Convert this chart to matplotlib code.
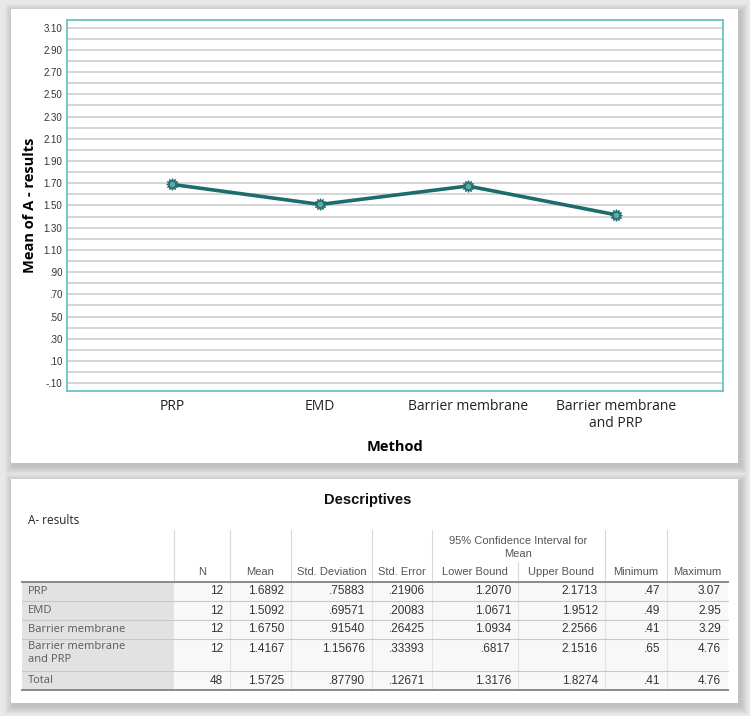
import numpy as np
from matplotlib import pyplot as plt
from matplotlib.patches import Rectangle

# data
methods = ["PRP", "EMD", "Barrier membrane", "Barrier membrane\nand PRP"]
means = [1.6892, 1.5092, 1.6750, 1.4167]

row_names = ["PRP", "EMD", "Barrier membrane", "Barrier membrane\nand PRP", "Total"]
n_vals = [12, 12, 12, 12, 48]
mean_vals = [1.6892, 1.5092, 1.6750, 1.4167, 1.5725]
sd_vals = [.75883, .69571, .91540, 1.15676, .87790]
se_vals = [.21906, .20083, .26425, .33393, .12671]
lower_vals = [1.2070, 1.0671, 1.0934, .6817, 1.3176]
upper_vals = [2.1713, 1.9512, 2.2566, 2.1516, 1.8274]
min_vals = [.47, .49, .41, .65, .41]
max_vals = [3.07, 2.95, 3.29, 4.76, 4.76]

ytick_vals = np.round(np.arange(-0.1, 3.11, 0.2), 2)
grid_vals = np.round(np.arange(-0.1, 3.11, 0.1), 2)


def spss(v, d):
    s = f"{v:.{d}f}"
    if s.startswith("0."):
        s = s[1:]
    elif s.startswith("-0."):
        s = "-" + s[2:]
    return s


W, H = 750, 716
fig = plt.figure(figsize=(W / 100, H / 100), dpi=100, facecolor="#e8e8e8")

# background axes in pixel coords (panels + table)
bg = fig.add_axes([0, 0, 1, 1], zorder=-1)
bg.set_xlim(0, W)
bg.set_ylim(H, 0)
bg.axis("off")

for (x0, y0, x1, y1) in [(11, 9, 738, 463), (11, 479, 738, 703)]:
    for k in range(8, 0, -1):
        bg.add_patch(Rectangle((x0 - k + 2, y0 - k + 3), x1 - x0 + 2 * k, y1 - y0 + 2 * k,
                               color="#000000", alpha=0.018, lw=0))
    bg.add_patch(Rectangle((x0, y0), x1 - x0, y1 - y0, color="white", lw=0))

# ---- chart ----
ax = fig.add_axes([66.7 / W, 1 - 390.7 / H, (723 - 66.7) / W, (390.7 - 20) / H], zorder=1)
ax.set_facecolor("white")
for y in grid_vals:
    ax.axhline(y, color="#d2d2d2", lw=1.3, zorder=1)
x = np.arange(len(methods))
ax.plot(x, means, color="#1d6b6b", lw=2.6, zorder=3)
ax.plot(x, means, ls="none", marker=(12, 1, 0), ms=8.5, mfc="#5fa9a9", mec="#24706f",
        mew=0.9, zorder=4)
ax.set_xlim(-0.716, 3.727)
ax.set_ylim(-0.167, 3.169)
ax.set_yticks(ytick_vals)
ax.set_yticklabels([spss(v, 2) for v in ytick_vals], fontfamily="Liberation Sans",
                   fontsize=7, color="#333333")
ax.set_xticks(x)
ax.set_xticklabels(methods, fontfamily="Open Sans", fontsize=10, color="#222222")
ax.tick_params(axis="y", length=0, pad=3)
ax.tick_params(axis="x", length=0, pad=6)
for s in ax.spines.values():
    s.set_color("#6cc2c2")
    s.set_linewidth(1.3)
ax.set_xlabel("Method", fontfamily="Open Sans", fontweight="bold", fontsize=10.5)
ax.xaxis.set_label_coords(0.5, -0.133)
ax.set_ylabel("Mean of A - results", fontfamily="Open Sans", fontweight="bold", fontsize=10.5)
ax.yaxis.set_label_coords(-0.046, 0.5)

# ---- table ----
bg.text(368, 500, "Descriptives", ha="center", va="center", fontfamily="Liberation Sans",
        fontweight="bold", fontsize=10.5, color="#111111")
bg.text(28, 520, "A- results", ha="left", va="center", fontfamily="Open Sans",
        fontsize=8.5, color="#222222")

left, lab_r = 22, 174
borders = [174, 230, 291, 372, 432, 518, 605, 667, 728]
row_edges = [582, 601, 620, 639, 671, 690]
headers = ["N", "Mean", "Std. Deviation", "Std. Error", "Lower Bound", "Upper Bound",
           "Minimum", "Maximum"]

# cell backgrounds
bg.add_patch(Rectangle((left, row_edges[0]), lab_r - left, row_edges[-1] - row_edges[0],
                       color="#e2e2e2", lw=0))
bg.add_patch(Rectangle((lab_r, row_edges[0]), borders[-1] - lab_r, row_edges[-1] - row_edges[0],
                       color="#f8f8f8", lw=0))

# header vertical lines
for b in borders[:-1]:
    top = 562 if b == 518 else 530
    bg.plot([b, b], [top, row_edges[0]], color="#d8d8d8", lw=0.8)
for b in borders[1:-1]:
    bg.plot([b, b], [row_edges[0], row_edges[-1]], color="#e2e2e2", lw=0.8)

for i in range(len(headers)):
    cx = (borders[i] + borders[i + 1]) / 2
    bg.text(cx, 572, headers[i], ha="center", va="center", fontfamily="Liberation Sans",
            fontsize=8, color="#555555")
bg.text(518.5, 541, "95% Confidence Interval for", ha="center", va="center",
        fontfamily="Liberation Sans", fontsize=8, color="#555555")
bg.text(518.5, 554, "Mean", ha="center", va="center",
        fontfamily="Liberation Sans", fontsize=8, color="#555555")

for r in row_edges[1:-1]:
    bg.plot([left, borders[-1]], [r, r], color="#c8c8c8", lw=0.8)
bg.plot([left, borders[-1]], [row_edges[0], row_edges[0]], color="#8a8a8a", lw=1.4)
bg.plot([left, borders[-1]], [row_edges[-1], row_edges[-1]], color="#8a8a8a", lw=1.4)

cols = [
    [str(v) for v in n_vals],
    [spss(v, 4) for v in mean_vals],
    [spss(v, 5) for v in sd_vals],
    [spss(v, 5) for v in se_vals],
    [spss(v, 4) for v in lower_vals],
    [spss(v, 4) for v in upper_vals],
    [spss(v, 2) for v in min_vals],
    [spss(v, 2) for v in max_vals],
]
for j, name in enumerate(row_names):
    y0, y1 = row_edges[j], row_edges[j + 1]
    if "\n" in name:
        bg.text(28, y0 + 2, name, ha="left", va="top", fontfamily="Open Sans",
                fontsize=8, color="#5a5a5a", linespacing=1.25)
        ty = y0 + 9.5
    else:
        bg.text(28, (y0 + y1) / 2, name, ha="left", va="center", fontfamily="Open Sans",
                fontsize=8, color="#5a5a5a")
        ty = (y0 + y1) / 2
    for i, col in enumerate(cols):
        bg.text(borders[i + 1] - 7, ty, col[j], ha="right", va="center",
                fontfamily="Liberation Sans", fontsize=8.5, color="#333333")

fig.savefig("out.png", dpi=100, facecolor=fig.get_facecolor())
